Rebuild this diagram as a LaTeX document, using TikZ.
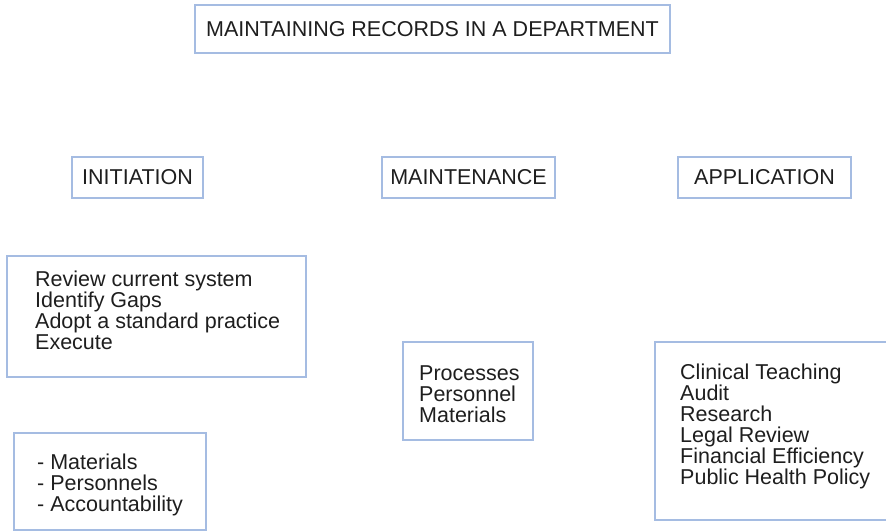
\documentclass[tikz,border=0pt]{standalone}
\usepackage{fontspec}
\setmainfont{Liberation Sans}
\definecolor{boxline}{RGB}{165,188,226}
\definecolor{ink}{RGB}{30,30,30}
\begin{document}
\begin{tikzpicture}[x=1pt,y=-1pt,
  box/.style={draw=boxline,line width=1.3pt,text=ink,inner sep=0pt,
    font=\fontsize{21.5}{21}\selectfont},
  listtext/.style={text=ink,inner sep=0pt,align=left,anchor=west,
    font=\fontsize{21.5}{21}\selectfont}]
\useasboundingbox (0,0) rectangle (886,532);
\clip (0,0) rectangle (886,532);
% title
\node[box,minimum width=475pt,minimum height=48pt] (title) at (432.5,29) {MAINTAINING RECORDS IN A DEPARTMENT};
% headings
\node[box,minimum width=131pt,minimum height=41pt] (init) at (137.5,177.5) {INITIATION};
\node[box,minimum width=173pt,minimum height=41pt] (maint) at (468.5,177.5) {MAINTENANCE};
\node[box,minimum width=173pt,minimum height=41pt] (appl) at (764.5,177.5) {APPLICATION};
% list boxes
\node[box,minimum width=299pt,minimum height=121pt] (review) at (156.5,316.5) {};
\node[box,minimum width=192pt,minimum height=97pt] (mat) at (110,481.5) {};
\node[box,minimum width=130pt,minimum height=98pt] (proc) at (468,391) {};
\node[box,minimum width=245pt,minimum height=178pt] (uses) at (777.5,431) {};
% list texts
\node[listtext] (reviewtext) at (35,310.5)
  {Review current system\\Identify Gaps\\Adopt a standard practice\\Execute};
\node[listtext] (mattext) at (37,484.5)
  {- Materials\\- Personnels\\- Accountability};
\node[listtext] (proctext) at (419,394)
  {Processes\\Personnel\\Materials};
\node[listtext] (usestext) at (680,426)
  {Clinical Teaching\\Audit\\Research\\Legal Review\\Financial Efficiency\\Public Health Policy};
\end{tikzpicture}
\end{document}
